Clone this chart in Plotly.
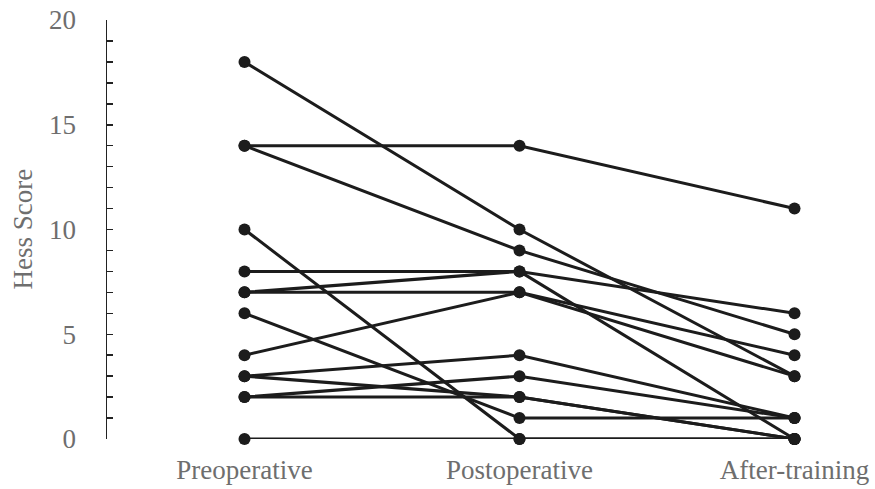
import plotly.graph_objects as go

categories = ["Preoperative", "Postoperative", "After-training"]
preoperative = [18, 14, 14, 10, 8, 7, 7, 4, 6, 3, 3, 2, 2, 0]
postoperative = [10, 14, 9, 0, 8, 8, 7, 7, 1, 4, 2, 3, 2, 0]
after_training = [3, 11, 5, 0, 6, 0, 4, 3, 1, 1, 0, 1, 0, 0]
y_ticks = [0, 5, 10, 15, 20]

LINE = "#1c1c1c"
TEXT = "#6e6e6e"
FONT = "Liberation Serif, Times New Roman, serif"
FS = 27

fig = go.Figure()
xs = list(range(len(categories)))
for a, b, c in zip(preoperative, postoperative, after_training):
    fig.add_trace(go.Scatter(
        x=xs, y=[a, b, c], mode="lines+markers",
        line=dict(color=LINE, width=3),
        marker=dict(color=LINE, size=12),
        cliponaxis=False, showlegend=False, hoverinfo="skip",
    ))

fig.update_layout(
    width=875, height=489,
    margin=dict(l=107, r=5, t=20, b=50, autoexpand=False),
    paper_bgcolor="white", plot_bgcolor="white",
    font=dict(family=FONT, color=TEXT, size=FS),
    showlegend=False,
)
fig.update_xaxes(
    range=[-0.5, 2.2745],
    tickvals=xs, ticktext=categories,
    showgrid=False, zeroline=False, showline=False,
    ticks="", ticklabelstandoff=12, automargin=False,
    tickfont=dict(size=FS, color=TEXT, family=FONT),
)
fig.update_yaxes(
    range=[0, 20],
    tickvals=y_ticks,
    showgrid=False, zeroline=False,
    showline=True, linecolor="#222222", linewidth=1.5,
    ticks="inside", ticklen=6, tickwidth=1.5, tickcolor="#222222",
    minor=dict(dtick=1, ticks="inside", ticklen=6, tickwidth=1.5, tickcolor="#222222"),
    ticklabelstandoff=24, automargin=False,
    tickfont=dict(size=FS, color=TEXT, family=FONT),
)
fig.add_annotation(
    text="Hess Score", textangle=-90,
    xref="paper", yref="paper",
    x=(22 - 107) / 763, y=0.5, xanchor="center", yanchor="middle",
    showarrow=False, font=dict(size=FS, color=TEXT, family=FONT),
)

fig.write_html(
    "out.html",
    config={"displayModeBar": False, "staticPlot": True},
    post_script="document.body.style.margin='0';document.body.style.overflow='hidden';",
)
